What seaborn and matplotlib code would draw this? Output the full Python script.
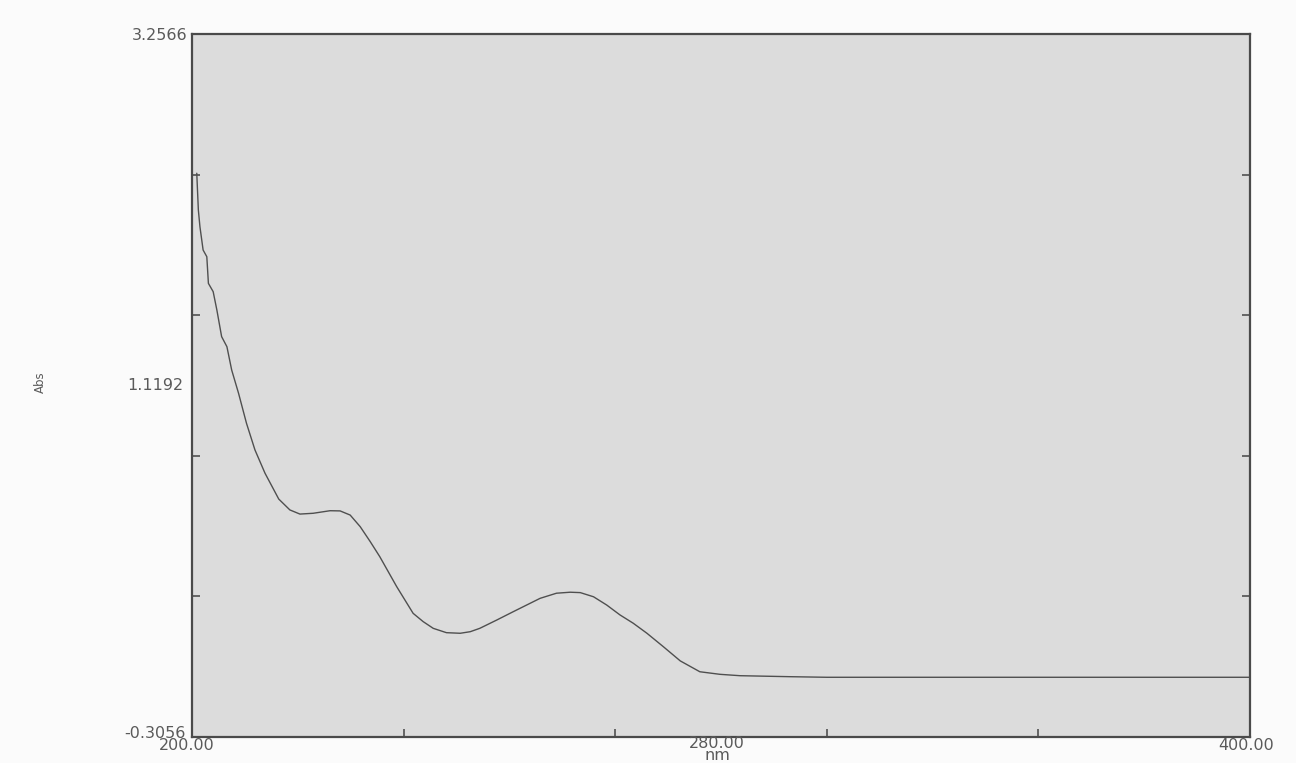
import matplotlib
matplotlib.use("Agg")
import matplotlib.pyplot as plt
import seaborn as sns
import pandas as pd

# UV absorbance spectrum, wavelength in nm
wavelength_nm = [200.9, 201.2, 201.5, 202.1, 202.8, 203.1, 204.0, 204.7, 205.6, 206.6,
                 207.5, 208.8, 210.3, 211.9, 213.8, 216.4, 218.5, 220.4, 222.9, 226.1,
                 228.0, 229.9, 231.8, 233.7, 235.5, 238.7, 241.8, 243.7, 245.6, 248.1,
                 250.7, 252.6, 254.4, 257.6, 260.7, 265.8, 268.9, 271.5, 273.4, 275.9,
                 278.4, 280.9, 283.4, 286.0, 289.1, 292.3, 296.0, 299.8, 303.6, 313.0,
                 320.0, 400.0]
absorbance = [2.551, 2.365, 2.280, 2.162, 2.128, 1.993, 1.951, 1.858, 1.723, 1.672,
              1.554, 1.436, 1.284, 1.149, 1.031, 0.900, 0.845, 0.824, 0.828, 0.841,
              0.840, 0.819, 0.760, 0.684, 0.608, 0.456, 0.321, 0.279, 0.245, 0.223,
              0.220, 0.228, 0.245, 0.287, 0.329, 0.397, 0.423, 0.428, 0.426, 0.405,
              0.363, 0.313, 0.271, 0.220, 0.152, 0.080, 0.025, 0.012, 0.005, 0.000,
              -0.003, -0.003]

x_range = [200.0, 400.0]
y_range = [-0.3056, 3.2566]
y_label_texts = ["3.2566", "1.1192", "-0.3056"]
x_label_texts = ["200.00", "280.00", "400.00"]
x_unit = "nm"

df = pd.DataFrame({"nm": wavelength_nm, "Abs": absorbance})

sns.set_theme(style="white")
plt.rcParams["font.family"] = ["DejaVu Sans"]

fig = plt.figure(figsize=(12.96, 7.63), dpi=100, facecolor="#fbfbfb")
ax = fig.add_axes([0.14815, 0.03408, 0.81636, 0.92136])
ax.set_facecolor("#dcdcdc")

sns.lineplot(data=df, x="nm", y="Abs", ax=ax, color="#4f4f4f", linewidth=1.0,
             estimator=None, sort=False)

ax.set_xlim(*x_range)
ax.set_ylim(*y_range)

# tick marks split each axis into five equal parts
n_div = 5
x_step = (x_range[1] - x_range[0]) / n_div
y_step = (y_range[1] - y_range[0]) / n_div
ax.set_xticks([x_range[0] + k * x_step for k in range(1, n_div)])
ax.set_yticks([y_range[0] + k * y_step for k in range(1, n_div)])
ax.tick_params(direction="in", length=6, width=1.2, colors="#505050",
               left=True, right=True, bottom=True, top=False,
               labelleft=False, labelbottom=False)
ax.set_xlabel("")
ax.set_ylabel("")
for sp in ax.spines.values():
    sp.set_color("#4a4a4a")
    sp.set_linewidth(1.6)
    sp.set_visible(True)

txt_kw = dict(color="#5a5a5a", fontsize=11.5)
H = 763.0
W = 1296.0

# value labels in the instrument's own layout
fig.text(187 / W, 1 - 35 / H, y_label_texts[0], ha="right", va="center", **txt_kw)
fig.text(183 / W, 1 - 385 / H, y_label_texts[1], ha="right", va="center", **txt_kw)
fig.text(186 / W, 1 - 733 / H, y_label_texts[2], ha="right", va="center", **txt_kw)

fig.text(187 / W, 1 - 746 / H, x_label_texts[0], ha="center", va="center", **txt_kw)
fig.text(1246 / W, 1 - 746 / H, x_label_texts[2], ha="center", va="center", **txt_kw)

# middle value with the unit stacked underneath
fig.text(717 / W, 0.5 / H, x_label_texts[1] + "\n" + x_unit, ha="center", va="bottom",
         linespacing=0.75, **txt_kw)
fig.text(40 / W, 1 - 382 / H, "Abs", ha="center", va="center", rotation=90,
         color="#5a5a5a", fontsize=8.5)

fig.savefig("out.png", dpi=100, facecolor=fig.get_facecolor())
